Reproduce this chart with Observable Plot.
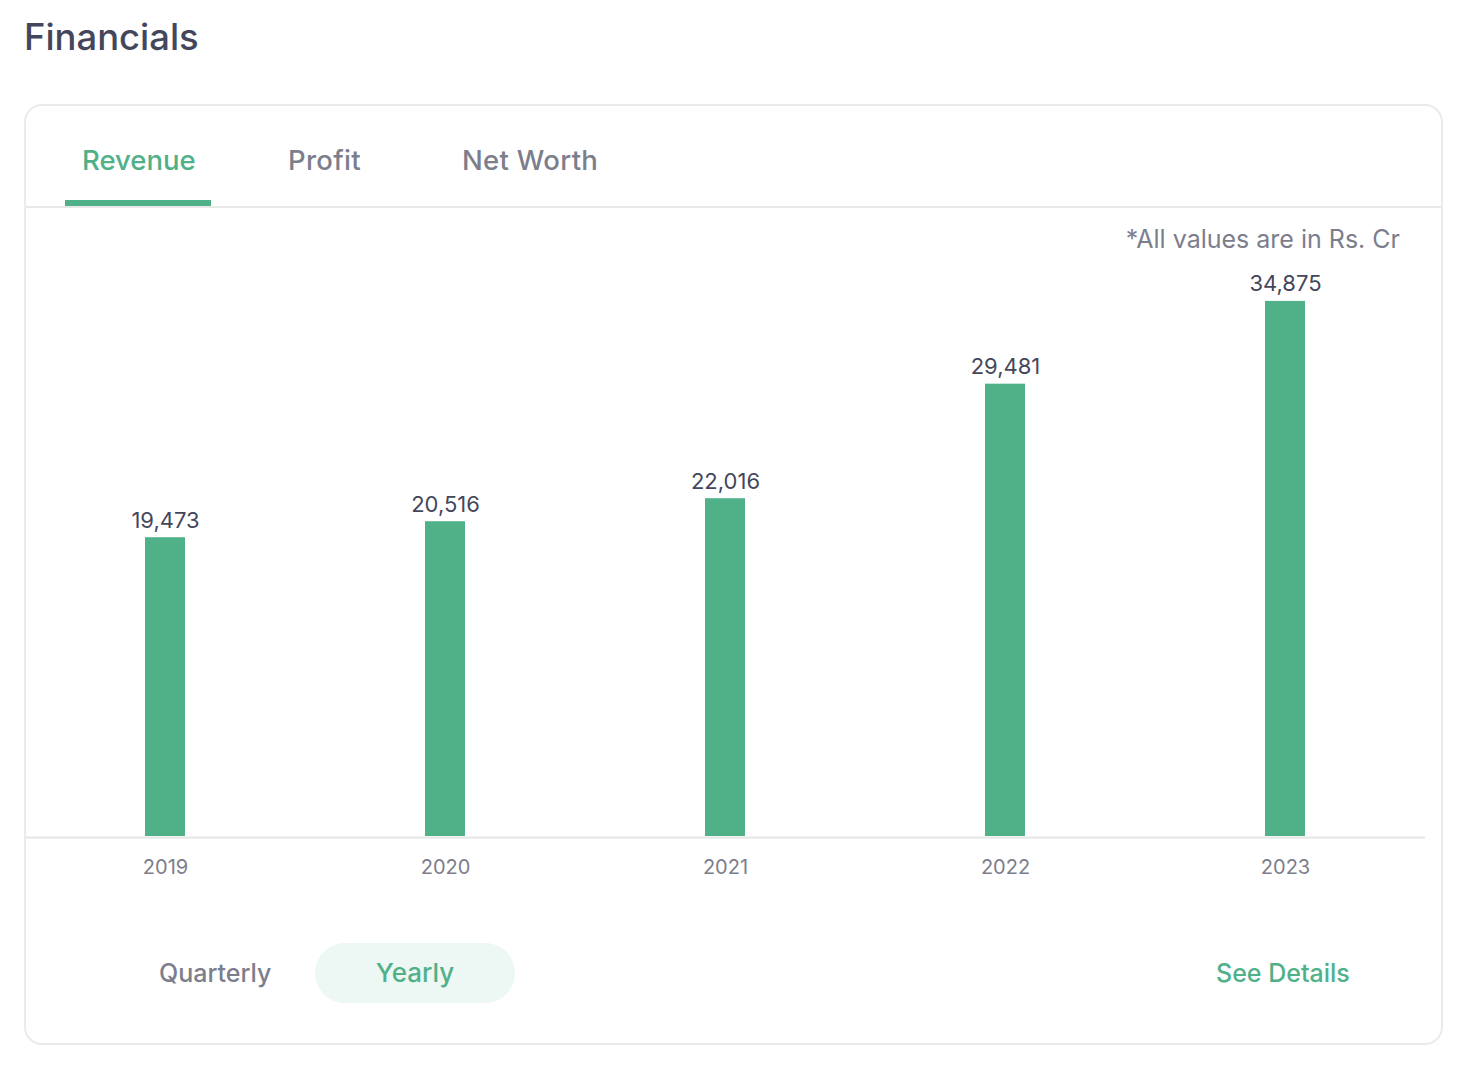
<!DOCTYPE html>
<html>
<head>
<meta charset="utf-8">
<script src="https://cdn.jsdelivr.net/npm/d3@7"></script>
<script src="https://cdn.jsdelivr.net/npm/@observablehq/plot@0.6"></script>
<style>
  html, body { margin: 0; padding: 0; background: #ffffff; }
  body { width: 1478px; height: 1076px; position: relative; font-family: Inter, "Noto Sans", sans-serif; overflow: hidden; }
  .abs { position: absolute; white-space: nowrap; }
  #title { left: 24px; top: 14px; font-size: 36.4px; font-weight: 500; color: #44475b; line-height: 46px; }
  #card { left: 24px; top: 104px; width: 1415px; height: 937px; border: 2px solid #ebebeb; border-radius: 18px; box-sizing: content-box; }
  .tab { top: 140px; font-size: 27.5px; font-weight: 500; color: #7c7e8c; line-height: 40px; letter-spacing: 0.3px; }
  #sep { left: 25px; top: 206px; width: 1416px; height: 1.5px; background: #e8e8e8; }
  #underline { left: 65px; top: 200px; width: 146px; height: 6px; background: #50b189; }
  #note { right: 78px; top: 224px; font-size: 25px; color: #7c7e8c; line-height: 30px; }
  #chart { left: 25px; top: 261px; }
  .btn { font-size: 25px; font-weight: 500; line-height: 60px; top: 943px; }
  #pill { left: 315px; top: 943px; width: 200px; height: 60px; border-radius: 30px; background: #edf7f3; text-align: center; color: #50b189; font-size: 26px; }
</style>
</head>
<body>
<div id="title" class="abs">Financials</div>
<div id="card" class="abs"></div>
<div id="sep" class="abs"></div>
<div class="abs tab" style="left:82px;color:#50b189;letter-spacing:0">Revenue</div>
<div class="abs tab" style="left:288px">Profit</div>
<div class="abs tab" style="left:462px">Net Worth</div>
<div id="underline" class="abs"></div>
<div id="note" class="abs">*All values are in Rs. Cr</div>
<div id="chart" class="abs"></div>
<div class="abs btn" style="left:159px;color:#7c7e8c">Quarterly</div>
<div id="pill" class="abs btn">Yearly</div>
<div class="abs btn" style="left:1216px;color:#50b189">See Details</div>
<script>
const years = ["2019", "2020", "2021", "2022", "2023"];
const revenue = [19473, 20516, 22016, 29481, 34875];

const data = years.map((year, i) => ({year, value: revenue[i]}));
const fmt = d3.format(",");

const chart = Plot.plot({
  width: 1400,
  height: 625,
  marginLeft: 0,
  marginRight: 0,
  marginTop: 38,
  marginBottom: 50,
  style: {background: "transparent", fontFamily: "Inter, 'Noto Sans', sans-serif", overflow: "visible"},
  x: {type: "band", domain: years, paddingInner: 6 / 7, paddingOuter: 3 / 7, axis: null},
  y: {domain: [0, 35000], axis: null},
  marks: [
    Plot.barY(data, {x: "year", y: "value", fill: "#50b189"}),
    Plot.ruleY([0], {stroke: "#e6e6e8", strokeWidth: 2, dy: 1}),
    Plot.text(data, {x: "year", y: "value", text: d => fmt(d.value), dy: -17, lineAnchor: "middle", fill: "#44475b", fontSize: 22}),
    Plot.text(data, {x: "year", y: () => 0, text: "year", dy: 31, lineAnchor: "middle", fill: "#7c7e8c", fontSize: 20})
  ]
});
document.getElementById("chart").appendChild(chart);
</script>
</body>
</html>
